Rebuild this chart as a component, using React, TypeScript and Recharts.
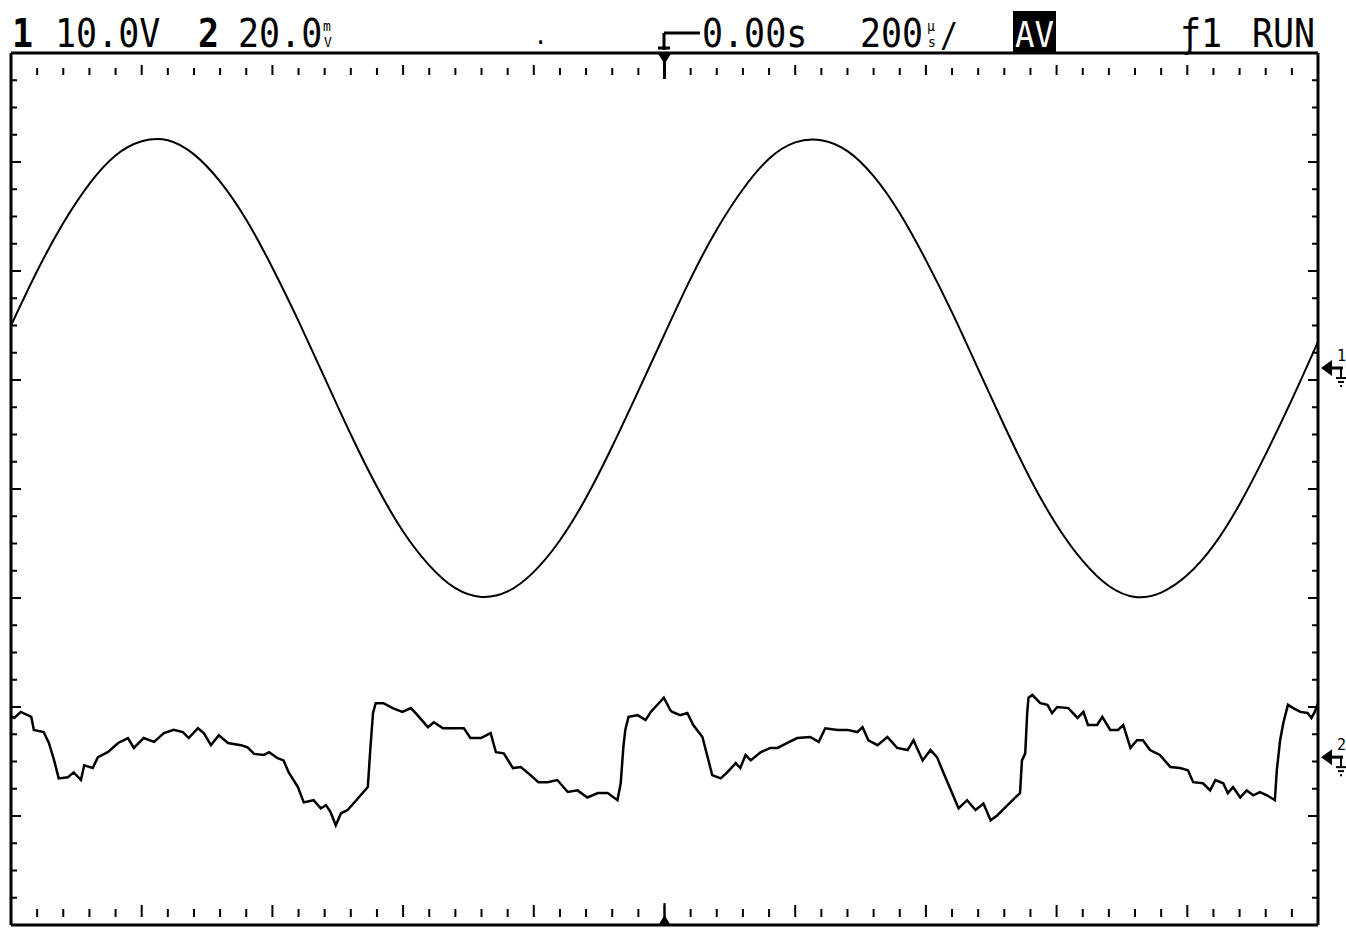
import { LineChart, Line, XAxis, YAxis, ReferenceLine, ReferenceDot } from 'recharts';

// screen frame (px inside the 1346x933 chart)
const CHART_W = 1346;
const CHART_H = 933;
const FRAME = { left: 11, top: 53, right: 1318, bottom: 925 };
const PLOT_W = FRAME.right - FRAME.left;
const PLOT_H = FRAME.bottom - FRAME.top;

// 200 us/div, trigger at centre -> -1000..1000 us across 10 div
const TIME_DOMAIN: [number, number] = [-1000, 1000];
// 8 vertical divisions
const DIV_DOMAIN: [number, number] = [-4, 4];
// channel 1: 10 V/div, channel 2: 20 mV/div, each with its own ground offset
const CH1_DOMAIN: [number, number] = [-51.1, 28.9];
const CH2_DOMAIN: [number, number] = [-30.8, 129.2];

// channel 1, sampled every 40 us (V)
const ch1Volts = [
  3.9, 8.9, 13.3, 16.9, 19.5, 20.8, 20.9, 19.6, 17.1, 13.6,
  9.2, 4.3, -0.9, -6.1, -10.9, -15.0, -18.1, -20.2, -21.0, -20.5,
  -18.7, -15.8, -11.9, -7.2, -2.1, 3.1, 8.2, 12.7, 16.4, 19.2,
  20.7, 20.9, 19.9, 17.6, 14.2, 9.9, 5.1, -0.1, -5.3, -10.2,
  -14.4, -17.7, -20.0, -21.0, -20.6, -19.0, -16.3, -12.5, -7.9, -2.9,
  2.4,
];
const ch1Times = ch1Volts.map((_, i) => -1000 + i * 40);

// channel 2 (us, mV)
const ch2Times = [
  -1000, -995, -985, -969, -965, -950, -942, -934, -927, -913,
  -904, -893, -888, -875, -867, -852, -836, -821, -812, -797,
  -781, -766, -751, -737, -728, -714, -705, -694, -682, -668,
  -648, -638, -628, -613, -605, -592, -583, -575, -561, -552,
  -537, -526, -518, -511, -503, -495, -485, -476, -465, -454,
  -453, -450, -446, -442, -430, -416, -401, -388, -378, -362,
  -353, -339, -324, -307, -297, -281, -266, -258, -246, -232,
  -220, -205, -193, -179, -164, -148, -133, -118, -102, -87,
  -72, -67, -63, -60, -55, -41, -29, -21, -14, -1,
  9, 12, 24, 35, 44, 58, 66, 73, 86, 96,
  109, 116, 124, 132, 147, 162, 173, 188, 203, 223,
  236, 246, 265, 280, 295, 303, 312, 326, 341, 356,
  372, 381, 395, 407, 417, 427, 437, 450, 463, 476,
  488, 499, 509, 525, 537, 544, 547, 552, 555, 557,
  563, 575, 586, 593, 601, 618, 632, 641, 648, 662,
  670, 682, 694, 702, 713, 723, 732, 743, 758, 774,
  789, 801, 809, 824, 835, 843, 855, 862, 870, 881,
  891, 901, 911, 922, 934, 937, 942, 947, 954, 962,
  973, 984, 990, 995, 1000,
];
const ch2Millivolts = [
  7.5, 7.2, 8.3, 7.4, 5.0, 4.6, 2.6, -0.6, -3.9, -3.7,
  -2.8, -4.2, -1.5, -2.0, 0.0, 0.9, 2.6, 3.5, 1.7, 3.5,
  2.8, 4.4, 5.0, 4.6, 3.5, 5.3, 4.4, 2.2, 4.0, 2.6,
  2.2, 1.8, 0.6, 0.4, 0.9, -0.2, -0.6, -2.8, -5.5, -8.3,
  -7.9, -9.4, -8.8, -10.1, -12.5, -10.3, -9.7, -8.5, -7.0, -5.5,
  -3.7, 1.8, 8.1, 9.9, 9.9, 9.0, 8.3, 9.0, 7.7, 5.5,
  6.4, 5.3, 5.3, 5.3, 3.5, 3.5, 4.4, 0.9, 0.7, -2.0,
  -1.8, -3.3, -4.6, -4.6, -4.2, -6.4, -6.1, -7.4, -6.6, -6.6,
  -7.9, -4.8, 1.8, 5.0, 7.4, 7.7, 6.8, 8.3, 9.2, 10.9,
  8.6, 8.3, 7.7, 8.1, 5.9, 3.7, 0.0, -3.3, -3.9, -2.8,
  -1.1, -2.0, 0.4, -0.6, 0.9, 1.7, 1.7, 2.6, 3.5, 3.7,
  2.8, 5.3, 5.0, 5.0, 4.6, 5.5, 3.1, 2.2, 3.7, 1.7,
  1.3, 3.1, -0.6, 1.3, 0.0, -2.9, -5.7, -9.4, -7.9, -9.7,
  -8.5, -11.6, -10.7, -8.8, -7.4, -6.6, -0.6, 0.7, 8.1, 10.9,
  11.4, 9.9, 9.6, 8.1, 9.2, 9.0, 7.2, 8.3, 5.9, 5.9,
  7.4, 5.0, 5.0, 5.9, 1.7, 3.1, 3.1, 1.3, 0.4, -1.8,
  -2.0, -2.4, -4.6, -4.8, -6.1, -4.2, -4.8, -6.6, -5.5, -7.4,
  -6.1, -7.0, -6.4, -7.0, -7.9, -2.4, 3.1, 6.3, 9.6, 9.0,
  8.3, 8.1, 7.2, 8.3, 9.9,
];

const ch1Data = ch1Times.map((t, i) => ({ t, v: ch1Volts[i] }));
const ch2Data = ch2Times.map((t, i) => ({ t, v: ch2Millivolts[i] }));

// graticule tick positions
const timeTicks = Array.from({ length: 51 }, (_, i) => -1000 + i * 40);
const divTicks = Array.from({ length: 33 }, (_, i) => -4 + i * 0.25);

const usPerPx = 2000 / PLOT_W;
const divPerPx = 8 / PLOT_H;

const INK = '#000';
const FONT = "'DejaVu Sans Mono', monospace";

const GroundMarker = ({ cx, cy, label }: { cx?: number; cy?: number; label: string }) => {
  if (cx == null || cy == null) return null;
  const x = cx + 3;
  return (
    <g>
      <polygon points={`${x},${cy} ${x + 11},${cy - 8} ${x + 11},${cy + 8}`} fill={INK} />
      <line x1={x + 11} y1={cy} x2={x + 22} y2={cy} stroke={INK} strokeWidth={3} />
      <text x={x + 16} y={cy - 7} fontSize={15} fontFamily={FONT} fill={INK}>{label}</text>
      <line x1={x + 20} y1={cy} x2={x + 20} y2={cy + 9} stroke={INK} strokeWidth={2} />
      <line x1={x + 15} y1={cy + 10} x2={x + 25} y2={cy + 10} stroke={INK} strokeWidth={2} />
      <line x1={x + 17} y1={cy + 14} x2={x + 23} y2={cy + 14} stroke={INK} strokeWidth={2} />
      <line x1={x + 19} y1={cy + 18} x2={x + 21} y2={cy + 18} stroke={INK} strokeWidth={2} />
    </g>
  );
};

const TopTrigger = ({ cx, cy }: { cx?: number; cy?: number }) => {
  if (cx == null || cy == null) return null;
  return (
    <g>
      <polygon points={`${cx - 7},${cy} ${cx + 7},${cy} ${cx},${cy + 11}`} fill={INK} />
      <line x1={cx} y1={cy} x2={cx} y2={cy + 26} stroke={INK} strokeWidth={3} />
    </g>
  );
};

const BottomTrigger = ({ cx, cy }: { cx?: number; cy?: number }) => {
  if (cx == null || cy == null) return null;
  return (
    <g>
      <polygon points={`${cx - 6},${cy} ${cx + 6},${cy} ${cx},${cy - 10}`} fill={INK} />
      <line x1={cx} y1={cy} x2={cx} y2={cy - 22} stroke={INK} strokeWidth={2} />
    </g>
  );
};

// status line above the screen
const Header = () => (
  <svg
    width={CHART_W}
    height={64}
    style={{ position: 'absolute', left: 0, top: 0, overflow: 'visible' }}
    fontFamily={FONT}
    fill={INK}
  >
    <g transform="translate(0,47) scale(1,1.1)">
      <text x={12} fontSize={35} fontWeight="bold">1</text>
      <text x={55} fontSize={35}>10.0V</text>
      <text x={198} fontSize={35} fontWeight="bold">2</text>
      <text x={238} fontSize={35}>20.0</text>
      <text x={323} y={-15} fontSize={13}>m</text>
      <text x={324} y={0} fontSize={13}>V</text>
      <text x={534} y={-3} fontSize={22}>.</text>
      <text x={702} fontSize={35}>0.00s</text>
      <text x={860} fontSize={35}>200</text>
      <text x={927} y={-15} fontSize={13}>µ</text>
      <text x={928} y={0} fontSize={13}>s</text>
      <text x={940} fontSize={30}>/</text>
      <text x={1180} fontSize={35}>ƒ1</text>
      <text x={1252} fontSize={35}>RUN</text>
    </g>
    {/* trigger position glyph */}
    <path d="M664 33 L664 50 M658 48 L670 48 M664 33 L700 33" stroke={INK} strokeWidth={3} fill="none" />
    <rect x={1013} y={11} width={43} height={FRAME.top - 11} fill={INK} />
    <g transform="translate(0,47) scale(1,1.1)">
      <text x={1015} fontSize={33} fill="#fff" textLength={39} lengthAdjust="spacingAndGlyphs">AV</text>
    </g>
  </svg>
);

export default function App() {
  return (
    <div style={{ position: 'absolute', left: 0, top: 0, width: CHART_W, height: CHART_H, background: '#fff' }}>
      <LineChart
        width={CHART_W}
        height={CHART_H}
        margin={{ top: FRAME.top, left: FRAME.left, right: CHART_W - FRAME.right, bottom: CHART_H - FRAME.bottom }}
      >
        <XAxis dataKey="t" type="number" domain={TIME_DOMAIN} allowDataOverflow hide />
        <YAxis yAxisId="div" type="number" domain={DIV_DOMAIN} allowDataOverflow hide />
        <YAxis yAxisId="ch1" type="number" domain={CH1_DOMAIN} allowDataOverflow hide />
        <YAxis yAxisId="ch2" type="number" domain={CH2_DOMAIN} allowDataOverflow hide />

        {/* frame */}
        <ReferenceLine yAxisId="div" y={4} stroke={INK} strokeWidth={3} ifOverflow="visible" />
        <ReferenceLine yAxisId="div" y={-4} stroke={INK} strokeWidth={3} ifOverflow="visible" />
        <ReferenceLine yAxisId="div" x={-1000} stroke={INK} strokeWidth={3} ifOverflow="visible" />
        <ReferenceLine yAxisId="div" x={1000} stroke={INK} strokeWidth={3} ifOverflow="visible" />

        {/* top / bottom graticule ticks */}
        {timeTicks.map((t) => {
          const major = t % 200 === 0;
          return (
            <ReferenceLine
              key={`top${t}`}
              yAxisId="div"
              segment={[{ x: t, y: 4 - (major ? 12 : 15) * divPerPx }, { x: t, y: 4 - 22 * divPerPx }]}
              stroke={INK}
              strokeWidth={2}
              ifOverflow="visible"
            />
          );
        })}
        {timeTicks.map((t) => {
          const major = t % 200 === 0;
          return (
            <ReferenceLine
              key={`bot${t}`}
              yAxisId="div"
              segment={[{ x: t, y: -4 + (major ? 20 : 16) * divPerPx }, { x: t, y: -4 + 8 * divPerPx }]}
              stroke={INK}
              strokeWidth={2}
              ifOverflow="visible"
            />
          );
        })}

        {/* left / right graticule ticks */}
        {divTicks.map((d) => {
          const major = Number.isInteger(d);
          const len = (major ? 10 : 6) * usPerPx;
          return (
            <ReferenceLine
              key={`l${d}`}
              yAxisId="div"
              segment={[{ x: -1000, y: d }, { x: -1000 + len, y: d }]}
              stroke={INK}
              strokeWidth={2}
              ifOverflow="visible"
            />
          );
        })}
        {divTicks.map((d) => {
          const major = Number.isInteger(d);
          const len = (major ? 10 : 6) * usPerPx;
          return (
            <ReferenceLine
              key={`r${d}`}
              yAxisId="div"
              segment={[{ x: 1000 - len, y: d }, { x: 1000, y: d }]}
              stroke={INK}
              strokeWidth={2}
              ifOverflow="visible"
            />
          );
        })}

        {/* trigger position markers */}
        <ReferenceDot yAxisId="div" x={0} y={4} ifOverflow="visible" shape={(p: any) => <TopTrigger cx={p.cx} cy={p.cy} />} />
        <ReferenceDot yAxisId="div" x={0} y={-4} ifOverflow="visible" shape={(p: any) => <BottomTrigger cx={p.cx} cy={p.cy} />} />

        <Line
          data={ch1Data}
          dataKey="v"
          yAxisId="ch1"
          type="natural"
          stroke={INK}
          strokeWidth={2}
          dot={false}
          isAnimationActive={false}
        />
        <Line
          data={ch2Data}
          dataKey="v"
          yAxisId="ch2"
          type="linear"
          stroke={INK}
          strokeWidth={2.5}
          dot={false}
          isAnimationActive={false}
        />

        {/* ground reference arrows */}
        <ReferenceDot yAxisId="ch1" x={1000} y={0} ifOverflow="visible" shape={(p: any) => <GroundMarker cx={p.cx} cy={p.cy} label="1" />} />
        <ReferenceDot yAxisId="ch2" x={1000} y={0} ifOverflow="visible" shape={(p: any) => <GroundMarker cx={p.cx} cy={p.cy} label="2" />} />
      </LineChart>
      <Header />
    </div>
  );
}
